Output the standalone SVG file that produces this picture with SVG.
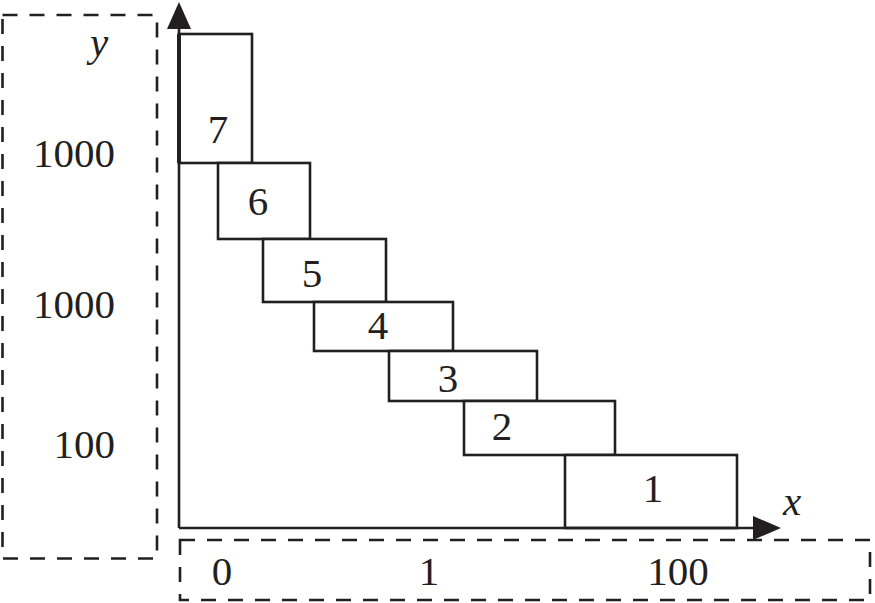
<svg xmlns="http://www.w3.org/2000/svg" width="875" height="603" viewBox="0 0 875 603">
<defs>
<style>
.box{fill:#fff;stroke:#231f20;stroke-width:2.6}
.dash{fill:none;stroke:#231f20;stroke-width:2.6;stroke-dasharray:15 12}
.ax{fill:none;stroke:#231f20;stroke-width:2.6}
text{font-family:"Liberation Serif","Times New Roman",serif;font-size:41px;fill:#231f20}
.c{text-anchor:middle}
.r{text-anchor:end}
.i{font-style:italic}
</style>
</defs>
<rect width="875" height="603" fill="#fff"/>
<g id="ylabels">
<rect class="dash" x="2.5" y="15" width="154.5" height="543.5"/>
<text class="i" x="90" y="56">y</text>
<text class="r" x="115" y="167">1000</text>
<text class="r" x="115" y="318">1000</text>
<text class="r" x="115" y="458">100</text>
</g>
<g id="xlabels">
<rect class="dash" x="180" y="540" width="690" height="60"/>
<text class="c" x="222" y="585">0</text>
<text class="c" x="429" y="585">1</text>
<text class="c" x="678" y="585">100</text>
</g>
<g id="n7"><rect class="box" x="179" y="34" width="73" height="129"/><text class="c" x="218" y="143">7</text></g>
<g id="n6"><rect class="box" x="218" y="163" width="92" height="76"/><text class="c" x="258" y="215">6</text></g>
<g id="n5"><rect class="box" x="263" y="239" width="123" height="63"/><text class="c" x="312" y="287">5</text></g>
<g id="n4"><rect class="box" x="314" y="302" width="139" height="49"/><text class="c" x="378" y="339">4</text></g>
<g id="n3"><rect class="box" x="389" y="351" width="148" height="50"/><text class="c" x="448" y="392">3</text></g>
<g id="n2"><rect class="box" x="464" y="401" width="151" height="54"/><text class="c" x="502" y="440">2</text></g>
<g id="n1"><rect class="box" x="565" y="455" width="172" height="73"/><text class="c" x="653" y="502">1</text></g>
<g id="connectors">
<path class="ax" d="M179 528 V26"/>
<path class="ax" d="M179 528 H756"/>
<path d="M179 2 L191 29 L167 29 Z" fill="#231f20"/>
<path d="M781 528 L753 516 L753 540 Z" fill="#231f20"/>
<path class="ax" d="M179 34 V163" style="stroke-width:4"/>
<text class="i" x="783" y="515">x</text>
</g>
</svg>
